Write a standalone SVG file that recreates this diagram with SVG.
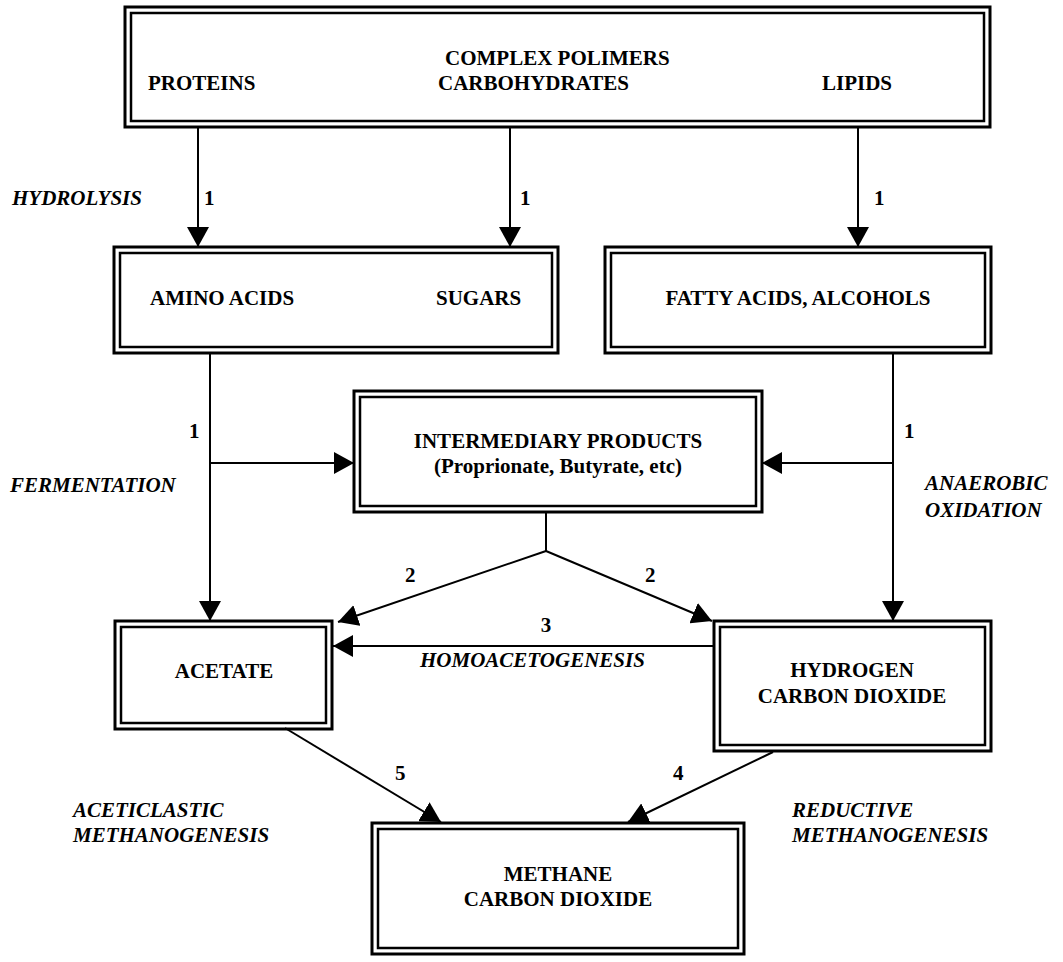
<svg xmlns="http://www.w3.org/2000/svg" width="1063" height="962" viewBox="0 0 1063 962">
<style>
.o{fill:none;stroke:#000;stroke-width:3}
.i{fill:none;stroke:#000;stroke-width:2.5}
.t{font-family:"Liberation Serif","Times New Roman",serif;font-weight:bold;font-size:21px;fill:#000}
.c{text-anchor:middle}
.it{font-family:"Liberation Serif","Times New Roman",serif;font-weight:bold;font-style:italic;font-size:21px;fill:#000}
.ln{fill:none;stroke:#000;stroke-width:2}
</style>
<defs>
<marker id="ah" viewBox="0 0 20 22" refX="20" refY="11" markerWidth="20" markerHeight="22" markerUnits="userSpaceOnUse" orient="auto">
<path d="M0,0 L20,11 L0,22 Z" fill="#000"/>
</marker>
</defs>
<rect width="1063" height="962" fill="#fff"/>

<g id="connectors">
<line class="ln" x1="198" y1="128" x2="198" y2="247" marker-end="url(#ah)"/>
<line class="ln" x1="510" y1="128" x2="510" y2="247" marker-end="url(#ah)"/>
<line class="ln" x1="858" y1="128" x2="858" y2="247" marker-end="url(#ah)"/>
<line class="ln" x1="210" y1="353" x2="210" y2="621" marker-end="url(#ah)"/>
<line class="ln" x1="210" y1="463" x2="354" y2="463" marker-end="url(#ah)"/>
<line class="ln" x1="893" y1="353" x2="893" y2="621" marker-end="url(#ah)"/>
<line class="ln" x1="893" y1="463" x2="762" y2="463" marker-end="url(#ah)"/>
<polyline class="ln" points="546,512 546,551"/>
<line class="ln" x1="546" y1="551" x2="338" y2="622" marker-end="url(#ah)"/>
<line class="ln" x1="546" y1="551" x2="712" y2="621" marker-end="url(#ah)"/>
<line class="ln" x1="714" y1="646" x2="333" y2="646" marker-end="url(#ah)"/>
<line class="ln" x1="285" y1="728" x2="441" y2="822" marker-end="url(#ah)"/>
<line class="ln" x1="773" y1="752" x2="628" y2="822" marker-end="url(#ah)"/>
</g>

<g id="labels">
<text class="it" x="12" y="205">HYDROLYSIS</text>
<text class="t" x="204" y="205">1</text>
<text class="t" x="520" y="205">1</text>
<text class="t" x="874" y="205">1</text>
<text class="t" x="189" y="438">1</text>
<text class="t" x="904" y="438">1</text>
<text class="it" x="10" y="492">FERMENTATION</text>
<text class="it" x="925" y="490">ANAEROBIC</text>
<text class="it" x="925" y="517">OXIDATION</text>
<text class="t" x="405" y="582">2</text>
<text class="t" x="645" y="582">2</text>
<text class="t" x="546" y="632" text-anchor="middle">3</text>
<text class="it" x="420" y="667">HOMOACETOGENESIS</text>
<text class="t" x="395" y="780">5</text>
<text class="t" x="673" y="780">4</text>
<text class="it" x="73" y="817">ACETICLASTIC</text>
<text class="it" x="73" y="842">METHANOGENESIS</text>
<text class="it" x="792" y="817">REDUCTIVE</text>
<text class="it" x="792" y="842">METHANOGENESIS</text>
</g>

<g id="complex-polymers">
<rect class="o" x="125" y="7" width="865" height="120"/>
<rect class="i" x="131" y="13" width="853" height="108"/>
<text class="t" x="445" y="65">COMPLEX POLIMERS</text>
<text class="t" x="148" y="90">PROTEINS</text>
<text class="t" x="438" y="90">CARBOHYDRATES</text>
<text class="t" x="822" y="90">LIPIDS</text>
</g>

<g id="amino-sugars">
<rect class="o" x="114" y="247" width="444" height="106"/>
<rect class="i" x="120" y="253" width="432" height="94"/>
<text class="t" x="150" y="305">AMINO ACIDS</text>
<text class="t" x="436" y="305">SUGARS</text>
</g>

<g id="fatty-acids">
<rect class="o" x="605" y="247" width="386" height="106"/>
<rect class="i" x="611" y="253" width="374" height="94"/>
<text class="t c" x="798" y="305">FATTY ACIDS, ALCOHOLS</text>
</g>

<g id="intermediary">
<rect class="o" x="354" y="391" width="408" height="121"/>
<rect class="i" x="360" y="397" width="396" height="109"/>
<text class="t c" x="558" y="448">INTERMEDIARY PRODUCTS</text>
<text class="t c" x="558" y="473">(Proprionate, Butyrate, etc)</text>
</g>

<g id="acetate">
<rect class="o" x="115" y="621" width="217" height="108"/>
<rect class="i" x="121" y="627" width="205" height="96"/>
<text class="t c" x="224" y="678">ACETATE</text>
</g>

<g id="hydrogen">
<rect class="o" x="714" y="621" width="277" height="130"/>
<rect class="i" x="720" y="627" width="265" height="118"/>
<text class="t c" x="852" y="677">HYDROGEN</text>
<text class="t c" x="852" y="703">CARBON DIOXIDE</text>
</g>

<g id="methane">
<rect class="o" x="372" y="823" width="372" height="131"/>
<rect class="i" x="378" y="829" width="360" height="119"/>
<text class="t c" x="558" y="881">METHANE</text>
<text class="t c" x="558" y="906">CARBON DIOXIDE</text>
</g>
</svg>
